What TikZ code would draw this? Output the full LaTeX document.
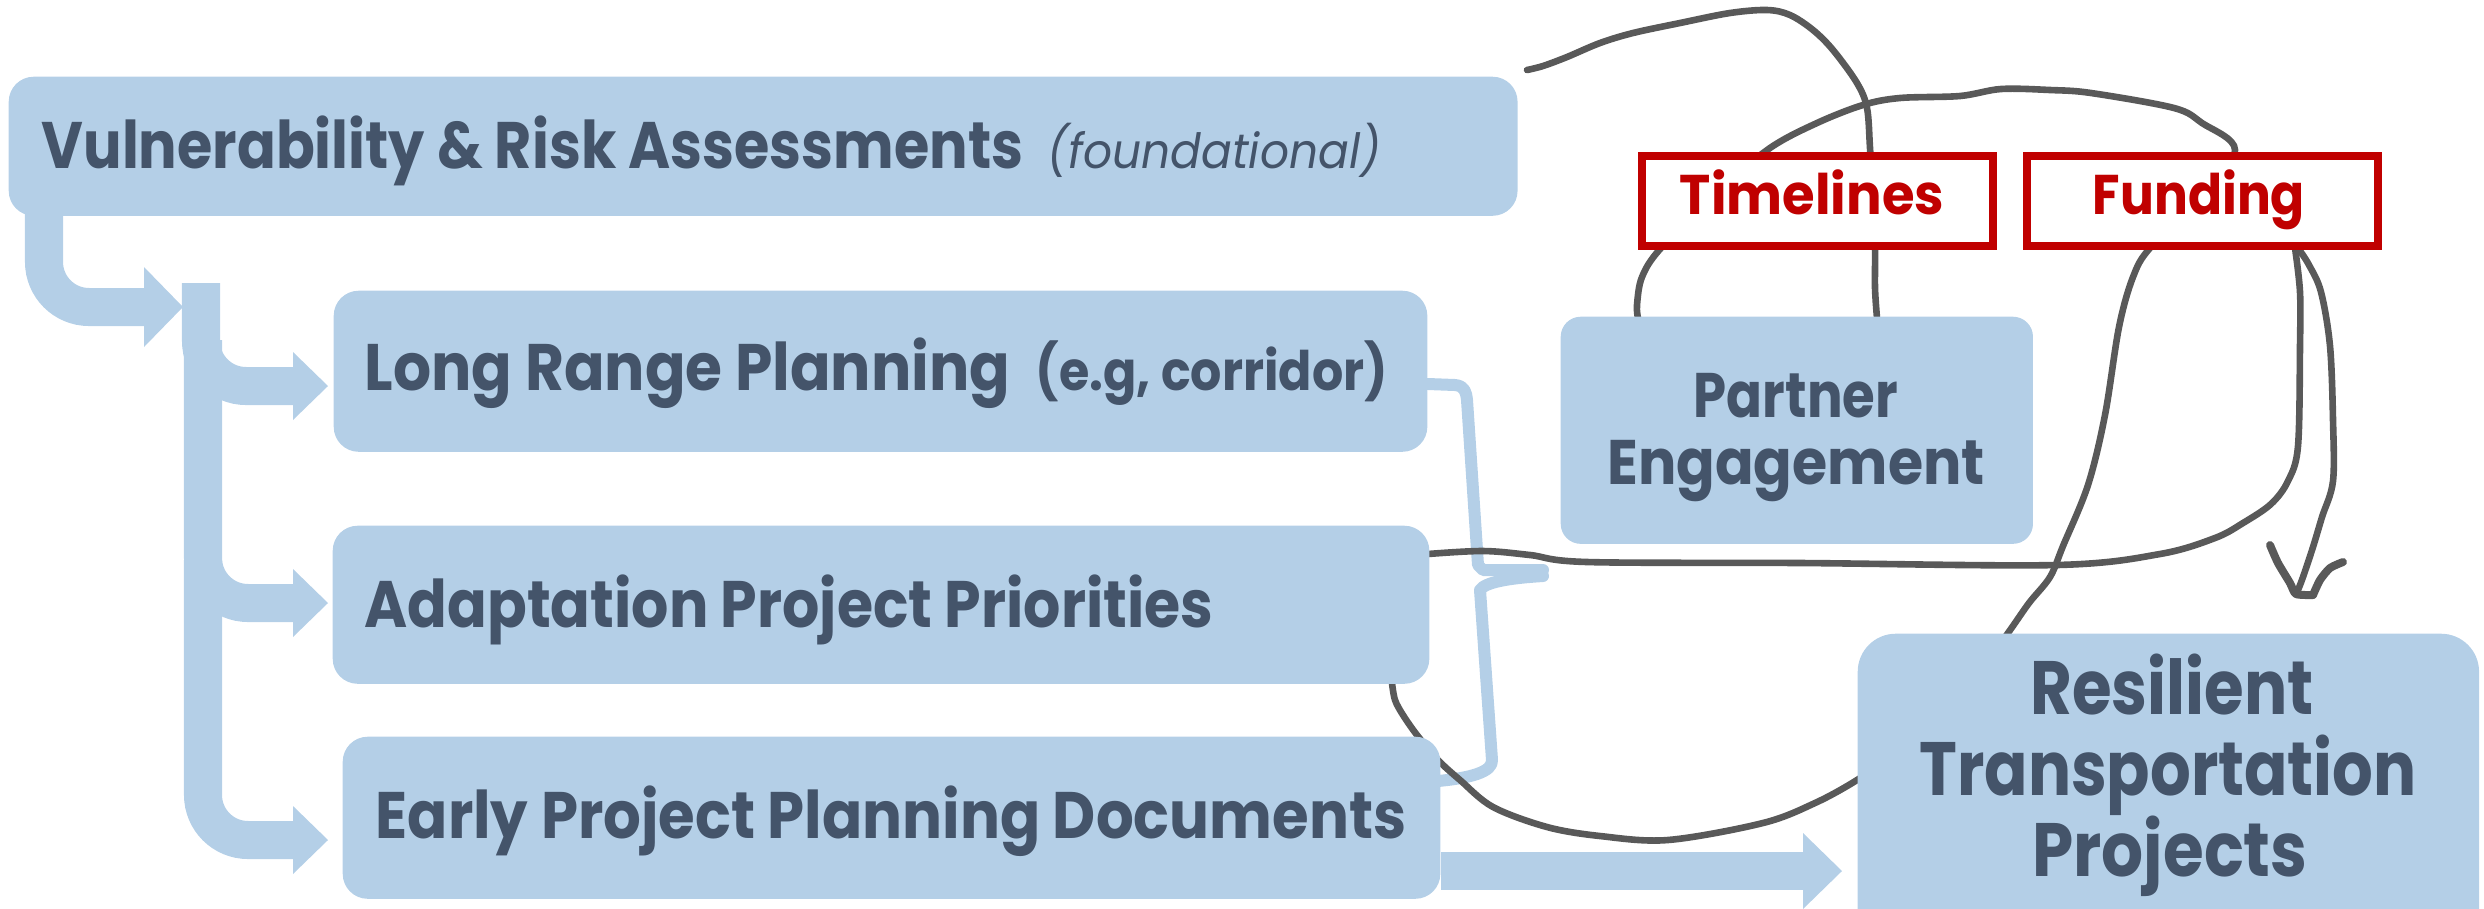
\documentclass[tikz,border=0pt]{standalone}
\usepackage{fontspec}
\setmainfont{Poppins}
\usepackage{graphicx}
\definecolor{boxblue}{HTML}{B4CFE7}
\definecolor{txt}{HTML}{44546A}
\definecolor{redc}{HTML}{C00000}
\definecolor{scribble}{HTML}{595959}
\newcommand\fitw[2]{\resizebox{#1}{\height}{#2}}
\pgfdeclarelayer{back}
\pgfsetlayers{back,main}
\tikzset{
  bx/.style={fill=boxblue, draw=none, rounded corners=0.25cm, inner sep=0, anchor=north west},
  tagbox/.style={fill=white, draw=redc, line width=0.08cm, inner sep=0, anchor=north west},
  lbl/.style={inner sep=0, text=txt, font=\bfseries},
  flow/.style={draw=boxblue, line width=0.38cm, rounded corners=0.45cm},
  head/.style={fill=boxblue, draw=none},
  bracestyle/.style={draw=boxblue, line width=0.12cm, line cap=round, line join=round},
  scrib/.style={draw=scribble, line width=0.066cm, line cap=round, line join=round},
}
\begin{document}
\begin{tikzpicture}[x=0.01cm, y=-0.01cm]
\useasboundingbox (0,0) rectangle (2484,908);
\clip (0,0) rectangle (2484,908);

% boxes
\node[bx, minimum width=15.08cm, minimum height=1.39cm] (vuln) at (8,76) {};
\node[bx, minimum width=10.93cm, minimum height=1.61cm] (lrp) at (333,290) {};
\node[bx, minimum width=10.96cm, minimum height=1.58cm] (adapt) at (332,525) {};
\node[bx, minimum width=10.97cm, minimum height=1.62cm] (early) at (342,736) {};
\node[bx, minimum width=4.72cm, minimum height=2.27cm, rounded corners=0.2cm] (partner) at (1560,316) {};
\node[bx, minimum width=6.21cm, minimum height=3.20cm, rounded corners=0.38cm] (res) at (1857,633) {};
\node[tagbox, minimum width=3.51cm, minimum height=0.90cm] (time) at (1638,152) {};
\node[tagbox, minimum width=3.51cm, minimum height=0.90cm] (fund) at (2023,152) {};

% flow arrows on the left
\coordinate (a1s) at (44,205);
\coordinate (a1e) at (146,307);
\draw[flow] (a1s) |- (a1e);
\fill[head] (144,267) -- (183,307) -- (144,347) -- cycle;
\draw[flow] (201,283) -- (201,386) -- (295,386);
\fill[head] (293,352) -- (328,386) -- (293,420) -- cycle;
\draw[flow] (203,340) -- (203,603) -- (295,603);
\fill[head] (293,569) -- (328,603) -- (293,637) -- cycle;
\draw[flow] (203,560) -- (203,840) -- (295,840);
\fill[head] (293,806) -- (328,840) -- (293,874) -- cycle;

% bottom arrow to resilient projects
\draw[boxblue, line width=0.38cm] (early.east |- 0,871) -- (1805,871);
\fill[head] (1803,833) -- (1842,871) -- (1803,909) -- cycle;

\begin{pgfonlayer}{back}
% brace
\draw[bracestyle] (1428,384) -- (1455,385) .. controls (1465,386) and (1466,392) .. (1467,400)
   -- (1478,565) -- (1483,570) -- (1543,570);
\draw[bracestyle] (1543,576) .. controls (1510,578) and (1485,582) .. (1480,590)
   -- (1492,760) .. controls (1493,772) and (1470,778) .. (1438,781);
% scribbles
\draw[scrib] plot[smooth, tension=0.55] coordinates {(1527,70) (1543,66) (1567,57) (1600,43) (1633,33) (1680,23) (1730,13) (1767,10) (1790,15) (1813,30) (1833,50) (1857,83) (1867,108) (1870,148) (1873,200) (1875,248) (1875,288) (1877,318)};
\draw[scrib] plot[smooth, tension=0.55] coordinates {(1638,318) (1637,305) (1642,277) (1661,248) (1720,190) (1770,148) (1817,123) (1863,105) (1900,98) (1960,96) (2001,89) (2050,90) (2091,93) (2174,108) (2202,123) (2235,150) (2200,200) (2150,248) (2133,277) (2119,327) (2105,415) (2088,485) (2063,546) (2050,577) (2029,603) (2008,633) (1960,700) (1900,750) (1857,780) (1815,803) (1763,823) (1668,840) (1600,836) (1547,827) (1493,807) (1460,780) (1438,760) (1417,735) (1403,715) (1395,700) (1392,683)};
\draw[scrib] plot[smooth, tension=0.55] coordinates {(1428,554) (1483,551) (1530,555) (1587,562) (1800,563) (2057,565) (2160,554) (2215,538) (2243,523) (2271,504) (2288,481) (2298,446) (2300,346) (2300,292) (2295,248)};
\draw[scrib] plot[smooth, tension=0.55] coordinates {(2298,248) (2309,265) (2321,292) (2330,346) (2333,420) (2333,481) (2322,517) (2313,547) (2303,577) (2298,590)};
\draw[scrib, line width=0.08cm] plot[smooth, tension=0.4] coordinates {(2270,545) (2278,563) (2290,583) (2296,594) (2313,595)};
\draw[scrib, line width=0.08cm] plot[smooth, tension=0.4] coordinates {(2343,562) (2330,568) (2320,580) (2313,595)};
\end{pgfonlayer}

% texts
\node[lbl, anchor=base west] (tvuln) at (41,168) {\fontsize{18.7}{20}\selectfont\fitw{9.81cm}{Vulnerability \& Risk Assessments}};
\node[lbl, anchor=base west, font=\mdseries\itshape] (tfound) at (1047,168) {\fontsize{13.8}{16}\selectfont\fitw{3.33cm}{(foundational)}};
\node[lbl, anchor=base west] (tlrp) at (364,390) {\fontsize{18.7}{20}\selectfont\fitw{6.45cm}{Long Range Planning}};
\node[lbl, anchor=base west] (teg) at (1035,390) {\fontsize{15.5}{17}\selectfont\fitw{3.52cm}{(e.g, corridor)}};
\node[lbl, anchor=base west] (tadapt) at (364,627) {\fontsize{18.7}{20}\selectfont\fitw{8.48cm}{Adaptation Project Priorities}};
\node[lbl, anchor=base west] (tearly) at (375,838) {\fontsize{18.7}{20}\selectfont\fitw{10.30cm}{Early Project Planning Documents}};
\node[lbl, anchor=base] (tpart1) at (1796,417) {\fontsize{17.9}{20}\selectfont\fitw{2.04cm}{Partner}};
\node[lbl, anchor=base] (tpart2) at (1796,484) {\fontsize{17.9}{20}\selectfont\fitw{3.77cm}{Engagement}};
\node[lbl, anchor=base, text=redc] (ttime) at (1812,214) {\fontsize{15.9}{18}\selectfont\fitw{2.64cm}{Timelines}};
\node[lbl, anchor=base, text=redc] (tfund) at (2199,214) {\fontsize{15.9}{18}\selectfont\fitw{2.12cm}{Funding}};
\node[lbl, anchor=base] (tres1) at (2172,714) {\fontsize{21.5}{24}\selectfont\fitw{2.83cm}{Resilient}};
\node[lbl, anchor=base] (tres2) at (2168,795) {\fontsize{21.5}{24}\selectfont\fitw{4.97cm}{Transportation}};
\node[lbl, anchor=base] (tres3) at (2170,876) {\fontsize{21.5}{24}\selectfont\fitw{2.75cm}{Projects}};
\end{tikzpicture}
\end{document}
